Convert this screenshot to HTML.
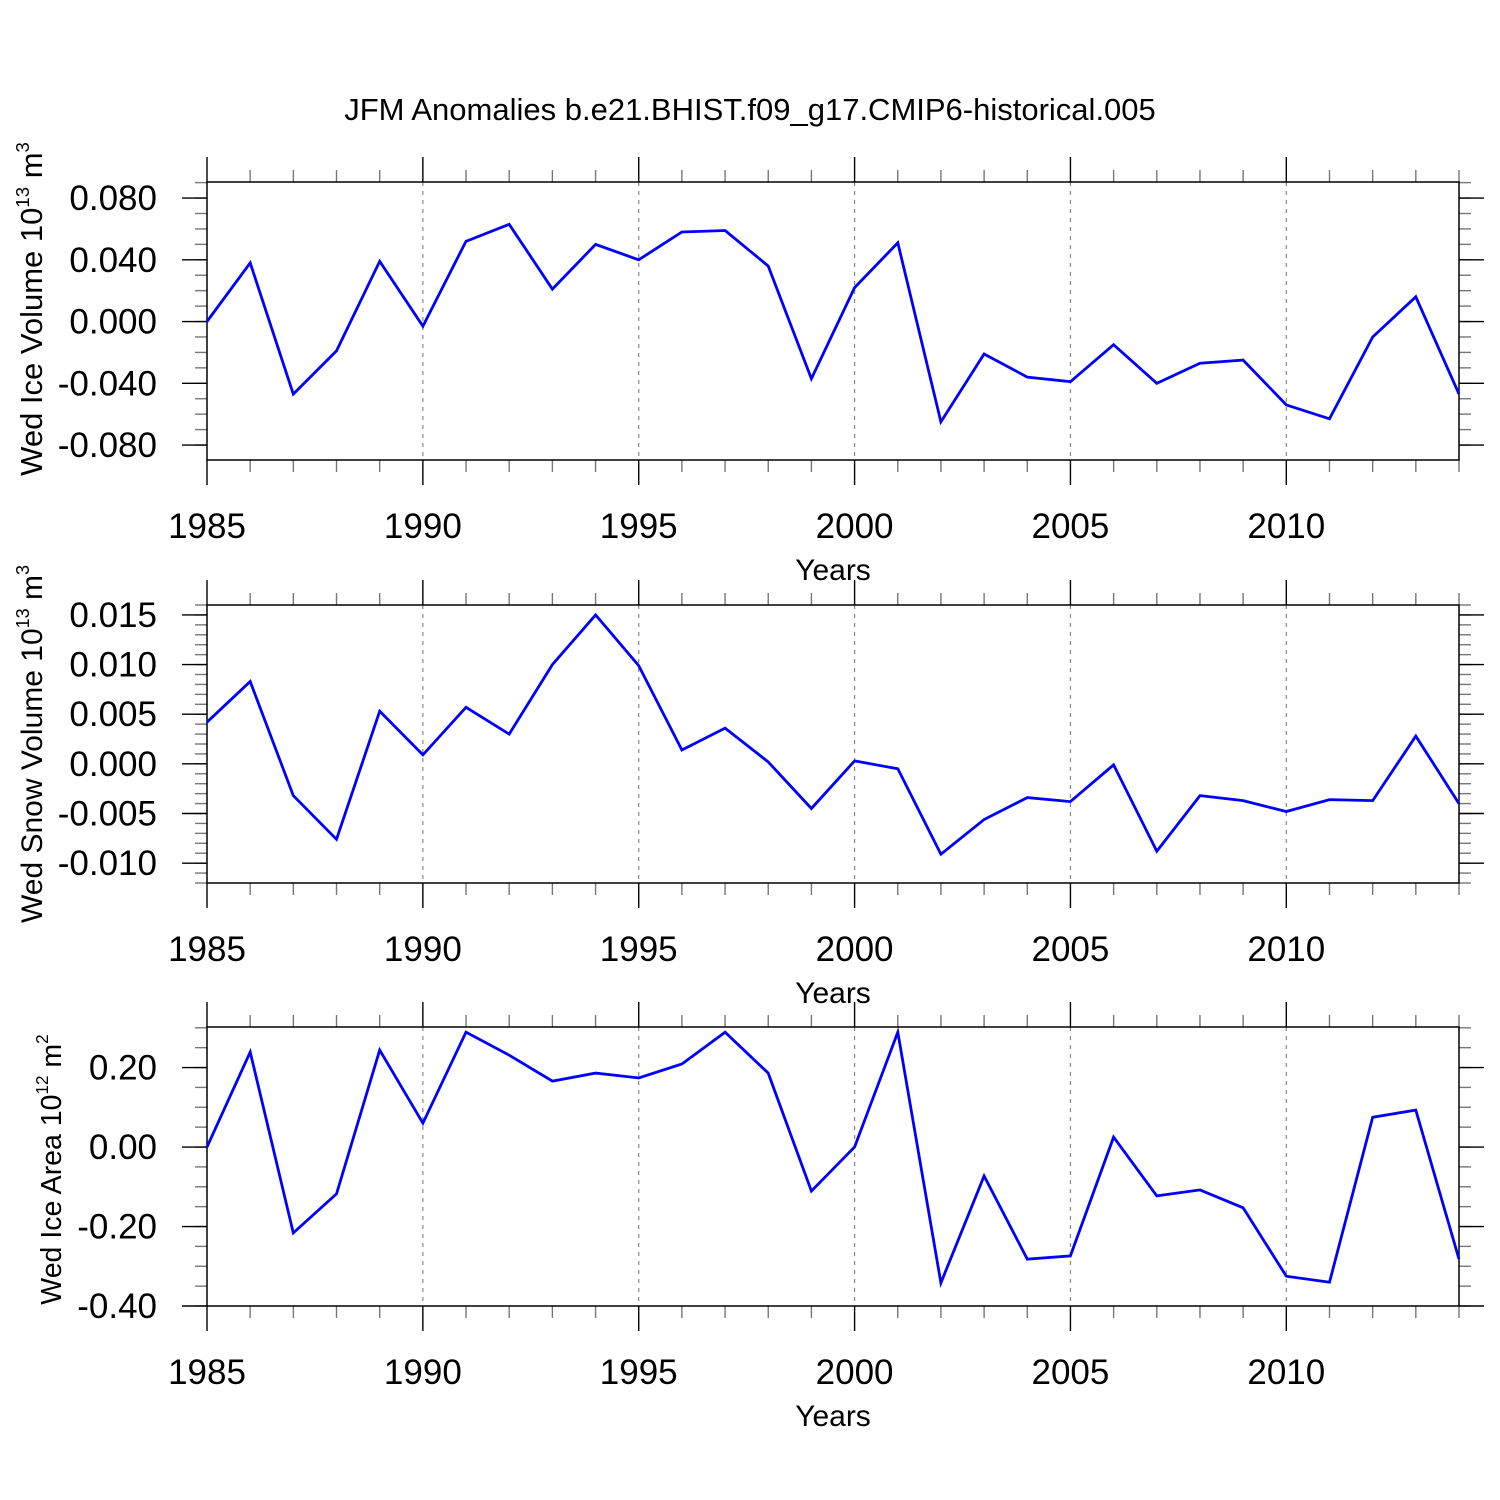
<!DOCTYPE html>
<html><head><meta charset="utf-8"><style>
body{margin:0;background:#fff}
svg{display:block;font-family:"Liberation Sans",sans-serif}
</style></head><body>
<svg id="chart" width="1500" height="1500" viewBox="0 0 1500 1500" xmlns="http://www.w3.org/2000/svg">
<text x="750" y="120" font-size="31" text-anchor="middle">JFM Anomalies b.e21.BHIST.f09_g17.CMIP6-historical.005</text>
</svg>
<script>
const years = [1985,1986,1987,1988,1989,1990,1991,1992,1993,1994,1995,1996,1997,1998,1999,2000,2001,2002,2003,2004,2005,2006,2007,2008,2009,2010,2011,2012,2013,2014];
const iceVolume = [0,0.038,-0.047,-0.019,0.039,-0.003,0.052,0.063,0.021,0.050,0.040,0.058,0.059,0.036,-0.037,0.022,0.051,-0.065,-0.021,-0.036,-0.039,-0.015,-0.040,-0.027,-0.025,-0.054,-0.063,-0.010,0.016,-0.047];
const snowVolume = [0.0042,0.0083,-0.0032,-0.0076,0.0053,0.0009,0.0057,0.0030,0.0100,0.0150,0.0099,0.0014,0.0036,0.0002,-0.0045,0.0003,-0.0005,-0.0091,-0.0056,-0.0034,-0.0038,-0.0001,-0.0088,-0.0032,-0.0037,-0.0048,-0.0036,-0.0037,0.0028,-0.0040];
const iceArea = [0,0.239,-0.216,-0.118,0.244,0.060,0.289,0.231,0.166,0.186,0.174,0.209,0.289,0.186,-0.111,0,0.289,-0.342,-0.073,-0.282,-0.274,0.025,-0.123,-0.108,-0.153,-0.325,-0.340,0.075,0.093,-0.282];
const xTickLabels = ["1985","1990","1995","2000","2005","2010"];
const iceVolTicks = ["0.080","0.040","0.000","-0.040","-0.080"];
const snowTicks = ["0.015","0.010","0.005","0.000","-0.005","-0.010"];
const areaTicks = ["0.20","0.00","-0.20","-0.40"];

const NS="http://www.w3.org/2000/svg";
const svg=document.getElementById('chart');
function mk(tag,attrs,parent){const e=document.createElementNS(NS,tag);for(const k in attrs)e.setAttribute(k,attrs[k]);(parent||svg).appendChild(e);return e;}
const X0=207,X1=1459;
function xs(y){return X0+(y-1985)*(X1-X0)/(2014-1985);}

function panel(name,top,bot,ymin,ymax,minorStep,ticks,data,ylabel,sup,unit,labelX,labelSize,labelShift){
  const g=mk('g',{});
  
  
  const ys=v=>bot-(v-ymin)*(bot-top)/(ymax-ymin);
  for(let y=1990;y<=2010;y+=5){
    const l=mk('line',{x1:xs(y),x2:xs(y),y1:top,y2:bot,stroke:'#888','stroke-width':1.2,'stroke-dasharray':'4,5'},g);
    
    
  }
  for(const y of years){
    const maj=(y%5===0);const L=maj?25:12;
    mk('line',{x1:xs(y),x2:xs(y),y1:top-L,y2:top,stroke:maj?'#000':'#777','stroke-width':1.4},g);
    mk('line',{x1:xs(y),x2:xs(y),y1:bot,y2:bot+L,stroke:maj?'#000':'#777','stroke-width':1.4},g);
  }
  const start=Math.ceil(ymin/minorStep-1e-6);
  for(let i=start;i*minorStep<=ymax+1e-9;i++){
    const yy=ys(i*minorStep);
    mk('line',{x1:X0-12,x2:X0,y1:yy,y2:yy,stroke:'#777','stroke-width':1.4},g);
    mk('line',{x1:X1,x2:X1+12,y1:yy,y2:yy,stroke:'#777','stroke-width':1.4},g);
  }
  for(const t of ticks){
    const yy=ys(parseFloat(t));
    mk('line',{x1:X0-25,x2:X0,y1:yy,y2:yy,stroke:'#000','stroke-width':1.4},g);
    mk('line',{x1:X1,x2:X1+25,y1:yy,y2:yy,stroke:'#000','stroke-width':1.4},g);
    const tx=mk('text',{x:157,y:yy+12,'font-size':35,'text-anchor':'end'},g);
    tx.textContent=t;
    
    
  }
  for(const t of xTickLabels){
    const tx=mk('text',{x:xs(+t),y:bot+78,'font-size':35,'text-anchor':'middle'},g);
    tx.textContent=t;
    
    
  }
  const xt=mk('text',{x:833,y:bot+120,'font-size':30,'text-anchor':'middle'},g);
  xt.textContent='Years';
  
  
  const cy=(top+bot)/2+labelShift;
  const yt=mk('text',{x:0,y:0,'font-size':labelSize,'text-anchor':'middle',transform:`translate(${labelX},${cy}) rotate(-90)`},g);
  
  
  yt.appendChild(document.createTextNode(ylabel+' 10'));
  const ts=mk('tspan',{'font-size':labelSize*0.6,dy:-13},yt);ts.textContent=sup;
  const tu=mk('tspan',{dy:13},yt);tu.textContent=' m';
  const tu2=mk('tspan',{'font-size':labelSize*0.6,dy:-13},yt);tu2.textContent=unit;
  const fr=mk('rect',{x:X0,y:top,width:X1-X0,height:bot-top,fill:'none',stroke:'#000','stroke-width':1.5},g);
  
  
  const pts=data.map((v,i)=>xs(years[i]).toFixed(1)+','+ys(v).toFixed(1)).join(' ');
  const pl=mk('polyline',{points:pts,fill:'none',stroke:'#0000ff','stroke-width':2.8,'stroke-linejoin':'miter'},g);
  
  
}
panel('ice-volume',182,460,-0.0897,0.0904,0.01,iceVolTicks,iceVolume,'Wed Ice Volume','13','3',42,31,-12);
panel('snow-volume',605,883,-0.012,0.016,0.001,snowTicks,snowVolume,'Wed Snow Volume','13','3',42,30,0);
panel('ice-area',1027,1306,-0.4,0.302,0.05,areaTicks,iceArea,'Wed Ice Area','12','2',61,28.5,3);
</script>
</body></html>
